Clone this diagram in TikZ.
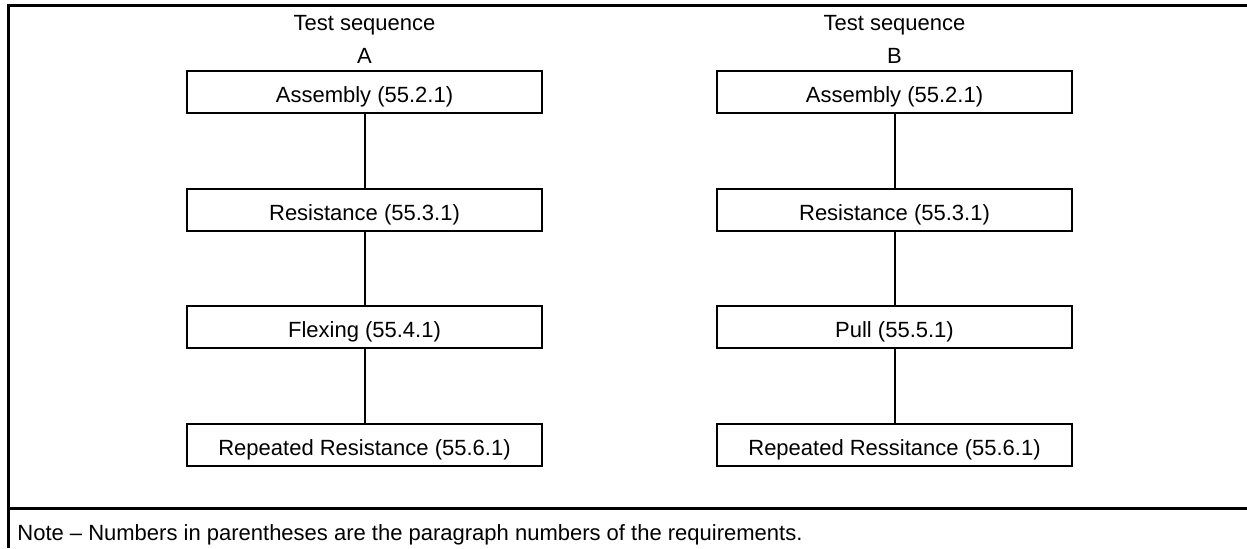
\documentclass[tikz,border=0pt]{standalone}
\usepackage{fontspec}
\setmainfont{Liberation Sans}

\begin{document}
\begin{tikzpicture}[x=0.5pt, y=-0.5pt,
  txt/.style={font=\fontsize{11}{13.5}\selectfont, inner sep=0pt},
  blk/.style={draw, line width=1.4pt, rectangle, minimum width=177.5pt,
              inner xsep=0pt, inner ysep=0pt, text height=15.5pt, text depth=5.5pt,
              font=\fontsize{11}{13.5}\selectfont},
  lnk/.style={line width=1pt},
  frm/.style={line width=1.5pt}
]
\useasboundingbox (0,0) rectangle (1247,548);
% frame
\draw[frm] (8,548) -- (8,5) -- (1247,5);
\draw[frm] (8,508) -- (1247,508);
% headings
\node[txt, anchor=base] (seqA) at (364.5,30) {Test sequence};
\node[txt, anchor=base] (letA) at (364.5,63) {A};
\node[txt, anchor=base] (seqB) at (894.5,30) {Test sequence};
\node[txt, anchor=base] (letB) at (894.5,63) {B};
% sequence A
\node[blk] (asmA) at (364.5, 92) {Assembly (55.2.1)};
\node[blk] (resA) at (364.5,210) {Resistance (55.3.1)};
\node[blk] (flxA) at (364.5,327) {Flexing (55.4.1)};
\node[blk] (rptA) at (364.5,445) {Repeated Resistance (55.6.1)};
% sequence B
\node[blk] (asmB) at (894.5, 92) {Assembly (55.2.1)};
\node[blk] (resB) at (894.5,210) {Resistance (55.3.1)};
\node[blk] (pulB) at (894.5,327) {Pull (55.5.1)};
\node[blk] (rptB) at (894.5,445) {Repeated Ressitance (55.6.1)};
\draw[lnk] (asmA) -- (resA);
\draw[lnk] (resA) -- (flxA);
\draw[lnk] (flxA) -- (rptA);
\draw[lnk] (asmB) -- (resB);
\draw[lnk] (resB) -- (pulB);
\draw[lnk] (pulB) -- (rptB);
% note
\node[txt, anchor=base west] (note) at (17,540)
  {Note -- Numbers in parentheses are the paragraph numbers of the requirements.};
\end{tikzpicture}
\end{document}
